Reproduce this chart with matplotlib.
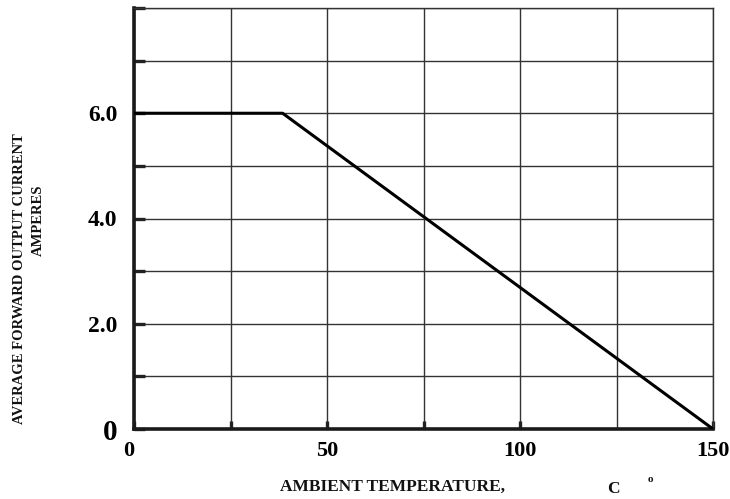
import matplotlib
matplotlib.use("Agg")
import matplotlib.pyplot as plt
import matplotlib.transforms as mtransforms

# derating curve
temps = [0, 38.5, 150]
current = [6.0, 6.0, 0.0]

x_ticks = [0, 25, 50, 75, 100, 125, 150]
x_labels = ['0', '', '50', '', '100', '', '150']
y_ticks = [0, 1, 2, 3, 4, 5, 6, 7, 8]
y_labels = ['0', '', '2.0', '', '4.0', '', '6.0', '', '']

plt.rcParams['font.family'] = ['Liberation Serif', 'DejaVu Serif']
plt.rcParams['font.weight'] = 'bold'

W, H = 730, 499
fig = plt.figure(figsize=(7.3, 4.99), dpi=100)
ax = fig.add_axes([134 / W, 1 - 429 / H, (713 - 134) / W, (429 - 8) / H])

ax.plot(temps, current, color='black', lw=2.2, solid_capstyle='butt', zorder=3)

ax.set_xlim(0, 150)
ax.set_ylim(0, 8)
ax.set_xticks(x_ticks)
ax.set_xticklabels(x_labels)
ax.set_yticks(y_ticks)
ax.set_yticklabels(y_labels)

ax.grid(True, color='#333333', lw=1.0)
ax.tick_params(axis='both', direction='in', color='#222222')
ax.tick_params(axis='y', length=8, width=2.4, pad=12, labelsize=17)
ax.tick_params(axis='x', length=6, width=2.4, pad=9, labelsize=16)

# no tick mark at 125
ax.xaxis.get_major_ticks()[5].tick1line.set_visible(False)

# the 0 on the y axis is set larger and a bit lower
lab0 = ax.get_yticklabels()[0]
lab0.set_fontsize(21)
lab0.set_va('center')
lab0.set_transform(lab0.get_transform() +
                   mtransforms.ScaledTranslation(0, -4 / 100, fig.dpi_scale_trans))

xt = ax.get_xticklabels()
xt[0].set_ha('right')

for side in ['left', 'bottom']:
    ax.spines[side].set_linewidth(2.6)
    ax.spines[side].set_color('#1a1a1a')
for side in ['top', 'right']:
    ax.spines[side].set_linewidth(1.0)
    ax.spines[side].set_color('#333333')

fig.text(20 / W, 1 - 279 / H, 'AVERAGE FORWARD OUTPUT CURRENT', rotation=90,
         ha='center', va='center', fontsize=10.5, color='#111111')
fig.text(38 / W, 1 - 220 / H, 'AMPERES', rotation=90,
         ha='center', va='center', fontsize=10.5, color='#111111')

fig.text(393 / W, 1 - 487 / H, 'AMBIENT TEMPERATURE,', ha='center', va='center',
         fontsize=12.5, color='#111111')
fig.text(613 / W, 1 - 489 / H, 'C', ha='center', va='center',
         fontsize=12.5, color='#111111')
fig.text(650 / W, 1 - 480 / H, 'o', ha='center', va='center',
         fontsize=8, color='#111111')

fig.savefig('out.png', dpi=100)
